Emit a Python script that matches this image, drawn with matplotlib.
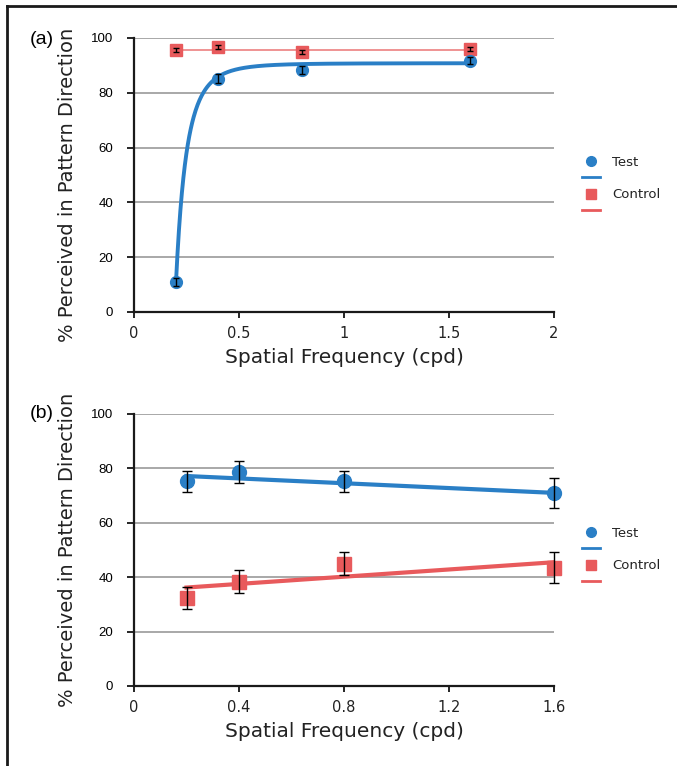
import numpy as np
import matplotlib
matplotlib.use("Agg")
import matplotlib.pyplot as plt
from matplotlib.lines import Line2D

# ---------------- data ----------------
freq = [0.2, 0.4, 0.8, 1.6]

# panel (a)
a_test = [10.9, 85.2, 88.4, 91.7]
a_test_err = [1.5, 1.5, 1.5, 1.2]
a_ctrl = [95.7, 96.8, 95.0, 95.9]
a_ctrl_err = [0.7, 0.7, 0.7, 0.7]
a_ctrl_fit = 95.8            # horizontal fit level
a_fit_params = dict(A=90.8, B=79.9, x0=0.2, n=4.0)   # saturating power fit: A - B*(x0/x)^n

# panel (b)
b_test = [75.2, 78.7, 75.2, 71.0]
b_test_err = [3.9, 3.9, 3.9, 5.5]
b_ctrl = [32.4, 38.4, 45.0, 43.4]
b_ctrl_err = [4.1, 4.1, 4.1, 5.7]
b_test_fit = [77.2, 71.0]    # linear fit ends at x=0.2 and x=1.6
b_ctrl_fit = [36.2, 45.5]

a_xticks = [0, 0.5, 1, 1.5, 2]
a_xticklabels = ["0", "0.5", "1", "1.5", "2"]
b_xticks = [0, 0.4, 0.8, 1.2, 1.6]
b_xticklabels = ["0", "0.4", "0.8", "1.2", "1.6"]
yticks = [0, 20, 40, 60, 80, 100]

BLUE = "#2a7fc6"
RED = "#e85a5c"
RED_LIGHT = "#ee8a8a"

fig = plt.figure(figsize=(6.77, 7.66), dpi=100)

# outer frame (top and left edges visible)
fig.add_artist(Line2D([7/677, 7/677], [0, 1 - 6/766], transform=fig.transFigure, color="#1a1a1a", lw=2))
fig.add_artist(Line2D([7/677, 1], [1 - 6/766, 1 - 6/766], transform=fig.transFigure, color="#1a1a1a", lw=2))

ax_a = fig.add_axes([134/677, 1 - 312/766, 420/677, 274/766])
ax_b = fig.add_axes([134/677, 1 - 686/766, 420/677, 272/766])


def style(ax, xticks, xlabels, xmax, ylab_y):
    ax.set_xlim(0, xmax)
    ax.set_ylim(0, 100)
    ax.set_yticks(yticks)
    ax.set_yticklabels([str(v) for v in yticks], fontfamily="Liberation Sans", fontsize=9.5)
    ax.set_xticks(xticks)
    ax.set_xticklabels(xlabels, fontfamily="DejaVu Sans", fontsize=10.5, color="#222222")
    ax.tick_params(axis="y", direction="out", length=5, width=1.2, pad=10)
    ax.tick_params(axis="x", direction="out", length=4, width=1.2, pad=6)
    for s in ["top", "right"]:
        ax.spines[s].set_visible(False)
    for s in ["left", "bottom"]:
        ax.spines[s].set_linewidth(1.6)
        ax.spines[s].set_color("#1a1a1a")
    ax.set_axisbelow(True)
    ax.yaxis.grid(True, color="#9a9a9a", lw=1.2)
    ax.set_xlabel("Spatial Frequency (cpd)", fontfamily="DejaVu Sans", fontsize=14.5, color="#222222", labelpad=5)
    ax.set_ylabel("% Perceived in Pattern Direction", fontfamily="DejaVu Sans", fontsize=14, color="#222222")
    ax.yaxis.set_label_coords(-0.135, ylab_y)


style(ax_a, a_xticks, a_xticklabels, 2, 0.465)
style(ax_b, b_xticks, b_xticklabels, 1.6, 0.5)

# ---------------- panel (a) ----------------
p = a_fit_params
xf = np.linspace(freq[0], freq[-1], 600)
yf = p["A"] - p["B"] * (p["x0"] / xf) ** p["n"]
ax_a.plot([freq[0], freq[-1]], [a_ctrl_fit, a_ctrl_fit], color=RED_LIGHT, lw=1.3, zorder=2)
ax_a.plot(xf, yf, color=BLUE, lw=2.8, zorder=3, solid_capstyle="round")
ax_a.plot(freq, a_ctrl, ls="none", marker="s", ms=9, color=RED, mec=RED, zorder=4, clip_on=False)
ax_a.plot(freq, a_test, ls="none", marker="o", ms=8.5, color=BLUE, mec=BLUE, zorder=4, clip_on=False)
ax_a.errorbar(freq, a_ctrl, yerr=a_ctrl_err, fmt="none", ecolor="black", elinewidth=1, capsize=2.5, capthick=1, zorder=5)
ax_a.errorbar(freq, a_test, yerr=a_test_err, fmt="none", ecolor="black", elinewidth=1, capsize=2.5, capthick=1, zorder=5)

# ---------------- panel (b) ----------------
ax_b.plot([freq[0], freq[-1]], b_test_fit, color=BLUE, lw=3, zorder=3)
ax_b.plot([freq[0], freq[-1]], b_ctrl_fit, color=RED, lw=3, zorder=3)
ax_b.plot(freq, b_test, ls="none", marker="o", ms=10, color=BLUE, mec=BLUE, zorder=4, clip_on=False)
ax_b.plot(freq, b_ctrl, ls="none", marker="s", ms=10, color=RED, mec=RED, zorder=4, clip_on=False)
eb1 = ax_b.errorbar(freq, b_test, yerr=b_test_err, fmt="none", ecolor="black", elinewidth=1, capsize=3.5, capthick=1, zorder=5)
eb2 = ax_b.errorbar(freq, b_ctrl, yerr=b_ctrl_err, fmt="none", ecolor="black", elinewidth=1, capsize=3.5, capthick=1, zorder=5)
for eb in (eb1, eb2):
    for art in eb.lines[1] + eb.lines[2]:
        art.set_clip_on(False)

# ---------------- legends ----------------
def add_legend(ax, y_anchor):
    handles = [
        Line2D([], [], ls="none", marker="o", ms=7, color=BLUE),
        Line2D([], [], color=BLUE, lw=2),
        Line2D([], [], ls="none", marker="s", ms=7, color=RED),
        Line2D([], [], color=RED, lw=2),
    ]
    labels = ["Test", " ", "Control", " "]
    leg = ax.legend(handles, labels, loc="upper left", bbox_to_anchor=(1.055, y_anchor),
                    frameon=False, handlelength=1.3, handletextpad=0.95,
                    labelspacing=0.25, borderaxespad=0, prop={"family": "DejaVu Sans", "size": 9.5})
    for t in leg.get_texts():
        t.set_color("#222222")


add_legend(ax_a, 0.59)
add_legend(ax_b, 0.605)

fig.text(30/677, 1 - 40/766, "(a)", fontfamily="Liberation Sans", fontsize=14, va="center", ha="left")
fig.text(30/677, 1 - 413/766, "(b)", fontfamily="Liberation Sans", fontsize=14, va="center", ha="left")

fig.savefig("out.png", dpi=100)
